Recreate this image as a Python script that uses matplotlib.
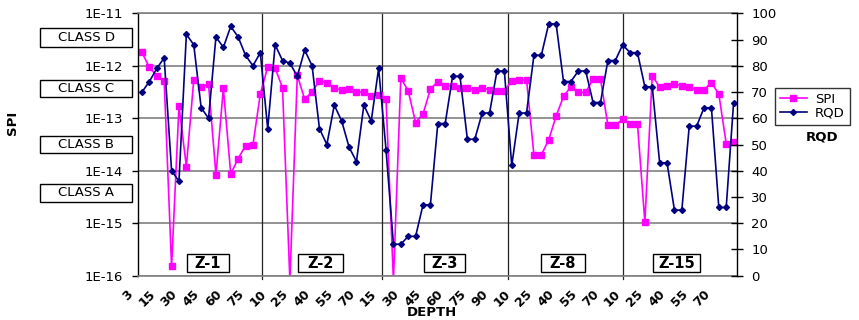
import matplotlib
matplotlib.use("Agg")
import matplotlib.pyplot as plt
import matplotlib.transforms as mtransforms
from matplotlib.patches import Rectangle
from matplotlib.ticker import FixedLocator, FuncFormatter
import numpy as np

plt.rcParams['font.family'] = ['DejaVu Sans']

# depth (m) of each sample, zone by zone
depth_z1 = [3, 5, 10, 15, 20, 25, 30, 35, 40, 45, 50, 55, 60, 65, 70, 75, 80]
depth_z2 = [5, 10, 15, 20, 25, 30, 35, 40, 45, 50, 55, 60, 65, 70, 75, 80]
depth_z3 = [15, 20, 25, 30, 35, 40, 45, 50, 55, 60, 65, 70, 75, 80, 85, 90, 95]
depth_z8 = [5, 10, 15, 20, 25, 30, 35, 40, 45, 50, 55, 60, 65, 70, 75]
depth_z15 = [5, 10, 15, 20, 25, 30, 35, 40, 45, 50, 55, 60, 65, 70, 75, 80]
depths = depth_z1 + depth_z2 + depth_z3 + depth_z8 + depth_z15

spi = [1.8e-12, 9.3e-13, 6.5e-13, 5.2e-13, 1.5e-16, 1.7e-13, 1.2e-14, 5.4e-13, 3.9e-13,
       4.5e-13, 8.3e-15, 3.7e-13, 8.7e-15, 1.7e-14, 3.0e-14, 3.1e-14, 2.9e-13,
       9.5e-13, 9.1e-13, 3.8e-13, 8e-17, 6.6e-13, 2.3e-13, 3.2e-13, 5.2e-13,
       4.7e-13, 3.8e-13, 3.4e-13, 3.6e-13, 3.2e-13, 3.1e-13, 2.7e-13, 2.8e-13,
       2.3e-13, 8e-17, 5.9e-13, 3.3e-13, 8.3e-14, 1.2e-13, 3.6e-13, 5.0e-13,
       4.2e-13, 4.1e-13, 3.8e-13, 3.7e-13, 3.5e-13, 3.8e-13, 3.5e-13, 3.3e-13, 3.3e-13,
       5.2e-13, 5.4e-13, 5.4e-13, 2.0e-14, 2.0e-14, 3.9e-14, 1.1e-13, 2.6e-13,
       4.0e-13, 3.1e-13, 3.1e-13, 5.6e-13, 5.6e-13, 7.4e-14, 7.4e-14,
       9.5e-14, 7.8e-14, 7.8e-14, 1.05e-15, 6.5e-13, 3.9e-13, 4.2e-13, 4.5e-13,
       4.2e-13, 3.9e-13, 3.5e-13, 3.5e-13, 4.8e-13, 2.9e-13, 3.3e-14, 3.5e-14]

rqd = [70, 74, 79, 83, 40, 36, 92, 88, 64, 60, 91, 87, 95, 91, 84, 80, 85,
       56, 88, 82, 81, 76, 86, 80, 56, 50, 65, 59, 49, 43.5, 65, 59, 79,
       48, 12, 12, 15, 15, 27, 27, 58, 58, 76, 76, 52, 52, 62, 62, 78, 78,
       42, 62, 62, 84, 84, 96, 96, 74, 74, 78, 78, 66, 66, 82, 82,
       88, 85, 85, 72, 72, 43, 43, 25, 25, 57, 57, 64, 64, 26, 26, 66]

zones = ["Z-1", "Z-2", "Z-3", "Z-8", "Z-15"]
classes = ["CLASS D", "CLASS C", "CLASS B", "CLASS A"]

W, H = 859, 320
x = np.arange(len(depths))

fig = plt.figure(figsize=(W / 100, H / 100), dpi=100)
ax = fig.add_axes([138.3 / W, 1 - 275.7 / H, 599 / W, 262.4 / H])
ax2 = ax.twinx()

ax.plot(x, spi, color='#FF00FF', lw=1.2, marker='s', ms=4, mec='#FF00FF', label='SPI')
ax2.plot(x, rqd, color='#000080', lw=1.2, marker='D', ms=3, mec='#000080', label='RQD')

ax.set_yscale('log')
ax.set_ylim(1e-16, 1e-11)
ax.set_xlim(-0.5, len(depths) - 0.5)
ax2.set_ylim(0, 100)

# left axis
ax.yaxis.set_major_locator(FixedLocator([1e-16, 1e-15, 1e-14, 1e-13, 1e-12, 1e-11]))
ax.yaxis.set_minor_locator(FixedLocator([]))
ax.yaxis.set_major_formatter(FuncFormatter(lambda v, p: "1E%d" % round(np.log10(v))))
ax.tick_params(axis='y', length=4, width=1, labelsize=9.5, pad=7)
ax.grid(axis='y', color='#808080', lw=1.2)
ax.set_axisbelow(True)

# x axis: every 3rd depth labelled
ax.set_xticks(x[::3])
ax.set_xticklabels([str(d) for d in depths[::3]], rotation=45, ha='right',
                   va='center', rotation_mode='anchor', fontweight='bold', fontsize=9)
ax.tick_params(axis='x', length=0, pad=12)
offset = mtransforms.ScaledTranslation(-8 / 72, 0, fig.dpi_scale_trans)
for lbl in ax.get_xticklabels():
    lbl.set_transform(lbl.get_transform() + offset)

# right axis
ax2.set_yticks(range(0, 101, 10))
ax2.tick_params(axis='y', direction='inout', length=8, width=1, labelsize=9.5, pad=6)

for sp in ['top', 'bottom']:
    ax.spines[sp].set_color('#808080')
    ax.spines[sp].set_linewidth(1.2)
    ax2.spines[sp].set_visible(False)
ax.spines['right'].set_visible(False)
ax2.spines['left'].set_visible(False)
ax.spines['left'].set_linewidth(1)
ax2.spines['right'].set_linewidth(1)

# zone separators
zone_edges = [16.2, 32.45, 49.45, 65.05]
for xe in zone_edges:
    ax.axvline(xe, ymin=-0.012, ymax=1, color='#222222', lw=0.9, clip_on=False, zorder=1)


def boxed_label(x0, x1, y0, y1, text, **kw):
    # box given in pixels from the top-left corner of the picture
    fig.patches.append(Rectangle((x0 / W, 1 - y1 / H), (x1 - x0) / W, (y1 - y0) / H,
                                 transform=fig.transFigure, fc='white', ec='black',
                                 lw=1, zorder=5))
    fig.text((x0 + x1) / 2 / W, 1 - (y0 + y1) / 2 / H, text, ha='center', va='center',
             zorder=6, **kw)


zone_boxes = [(187, 229), (298, 343), (424, 465), (541, 585), (653, 700)]
for (x0, x1), name in zip(zone_boxes, zones):
    boxed_label(x0, x1, 254, 272, name, fontsize=10.5, fontweight='bold')

class_boxes = [(28, 47), (80, 97), (136, 153), (184, 202)]
for (y0, y1), name in zip(class_boxes, classes):
    boxed_label(40, 132, y0, y1, name, fontsize=9.5)

fig.text(12.5 / W, 1 - 123 / H, "SPI", rotation=90, ha='center', va='center',
         fontsize=9.5, fontweight='bold')
fig.text(822 / W, 1 - 137 / H, "RQD", ha='center', va='center', fontsize=9.5, fontweight='bold')
fig.text(432 / W, 1 - 313 / H, "DEPTH", ha='center', va='center', fontsize=9.5, fontweight='bold')

h1, l1 = ax.get_legend_handles_labels()
h2, l2 = ax2.get_legend_handles_labels()
leg = fig.legend(h1 + h2, l1 + l2, loc='upper left', bbox_to_anchor=(775 / W, 1 - 88 / H),
                 fontsize=9.5, frameon=True, fancybox=False, edgecolor='black',
                 borderpad=0.35, handlelength=2.1, labelspacing=0.1, handletextpad=0.6,
                 borderaxespad=0)
leg.get_frame().set_linewidth(1)

fig.savefig("out.png", dpi=100)
